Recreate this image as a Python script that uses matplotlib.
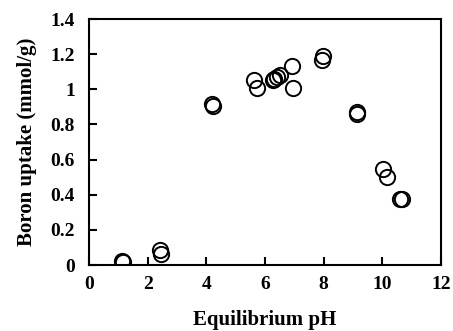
import matplotlib
matplotlib.use("Agg")
import matplotlib.pyplot as plt

# Equilibrium pH vs boron uptake (mmol/g)
ph = [1.12, 1.15, 2.42, 2.45, 4.19, 4.24, 5.63, 5.73, 6.27, 6.31, 6.41, 6.51,
      6.92, 6.96, 7.94, 7.98, 9.13, 9.15, 10.02, 10.16, 10.60, 10.67]
uptake = [0.025, 0.015, 0.085, 0.065, 0.915, 0.905, 1.05, 1.01, 1.05, 1.06,
          1.07, 1.08, 1.135, 1.01, 1.165, 1.19, 0.86, 0.87, 0.545, 0.50,
          0.376, 0.376]

xticks = [0, 2, 4, 6, 8, 10, 12]
yticks = [0, 0.2, 0.4, 0.6, 0.8, 1.0, 1.2, 1.4]
yticklabels = ["0", "0.2", "0.4", "0.6", "0.8", "1", "1.2", "1.4"]

plt.rcParams["font.family"] = ["Liberation Serif", "DejaVu Serif"]
plt.rcParams["font.weight"] = "bold"

fig = plt.figure(figsize=(4.53, 3.31), dpi=100)
ax = fig.add_axes([89 / 453, 1 - 265 / 331, 352 / 453, 246 / 331])

ax.plot(ph, uptake, linestyle="none", marker="o", markersize=11,
        markerfacecolor="none", markeredgecolor="black", markeredgewidth=1.4)

ax.set_xlim(0, 12)
ax.set_ylim(0, 1.4)
ax.set_xticks(xticks)
ax.set_yticks(yticks)
ax.set_yticklabels(yticklabels)
ax.tick_params(direction="in", length=6, width=1.5, labelsize=14,
               top=False, right=False)
ax.tick_params(axis="y", pad=10)
ax.tick_params(axis="x", pad=8)
for s in ax.spines.values():
    s.set_linewidth(1.5)

ax.set_xlabel("Equilibrium pH", fontsize=15, fontweight="bold", labelpad=12)
ax.set_ylabel("Boron uptake (mmol/g)", fontsize=15, fontweight="bold", labelpad=10)

fig.savefig("out.png", dpi=100, facecolor="white")
